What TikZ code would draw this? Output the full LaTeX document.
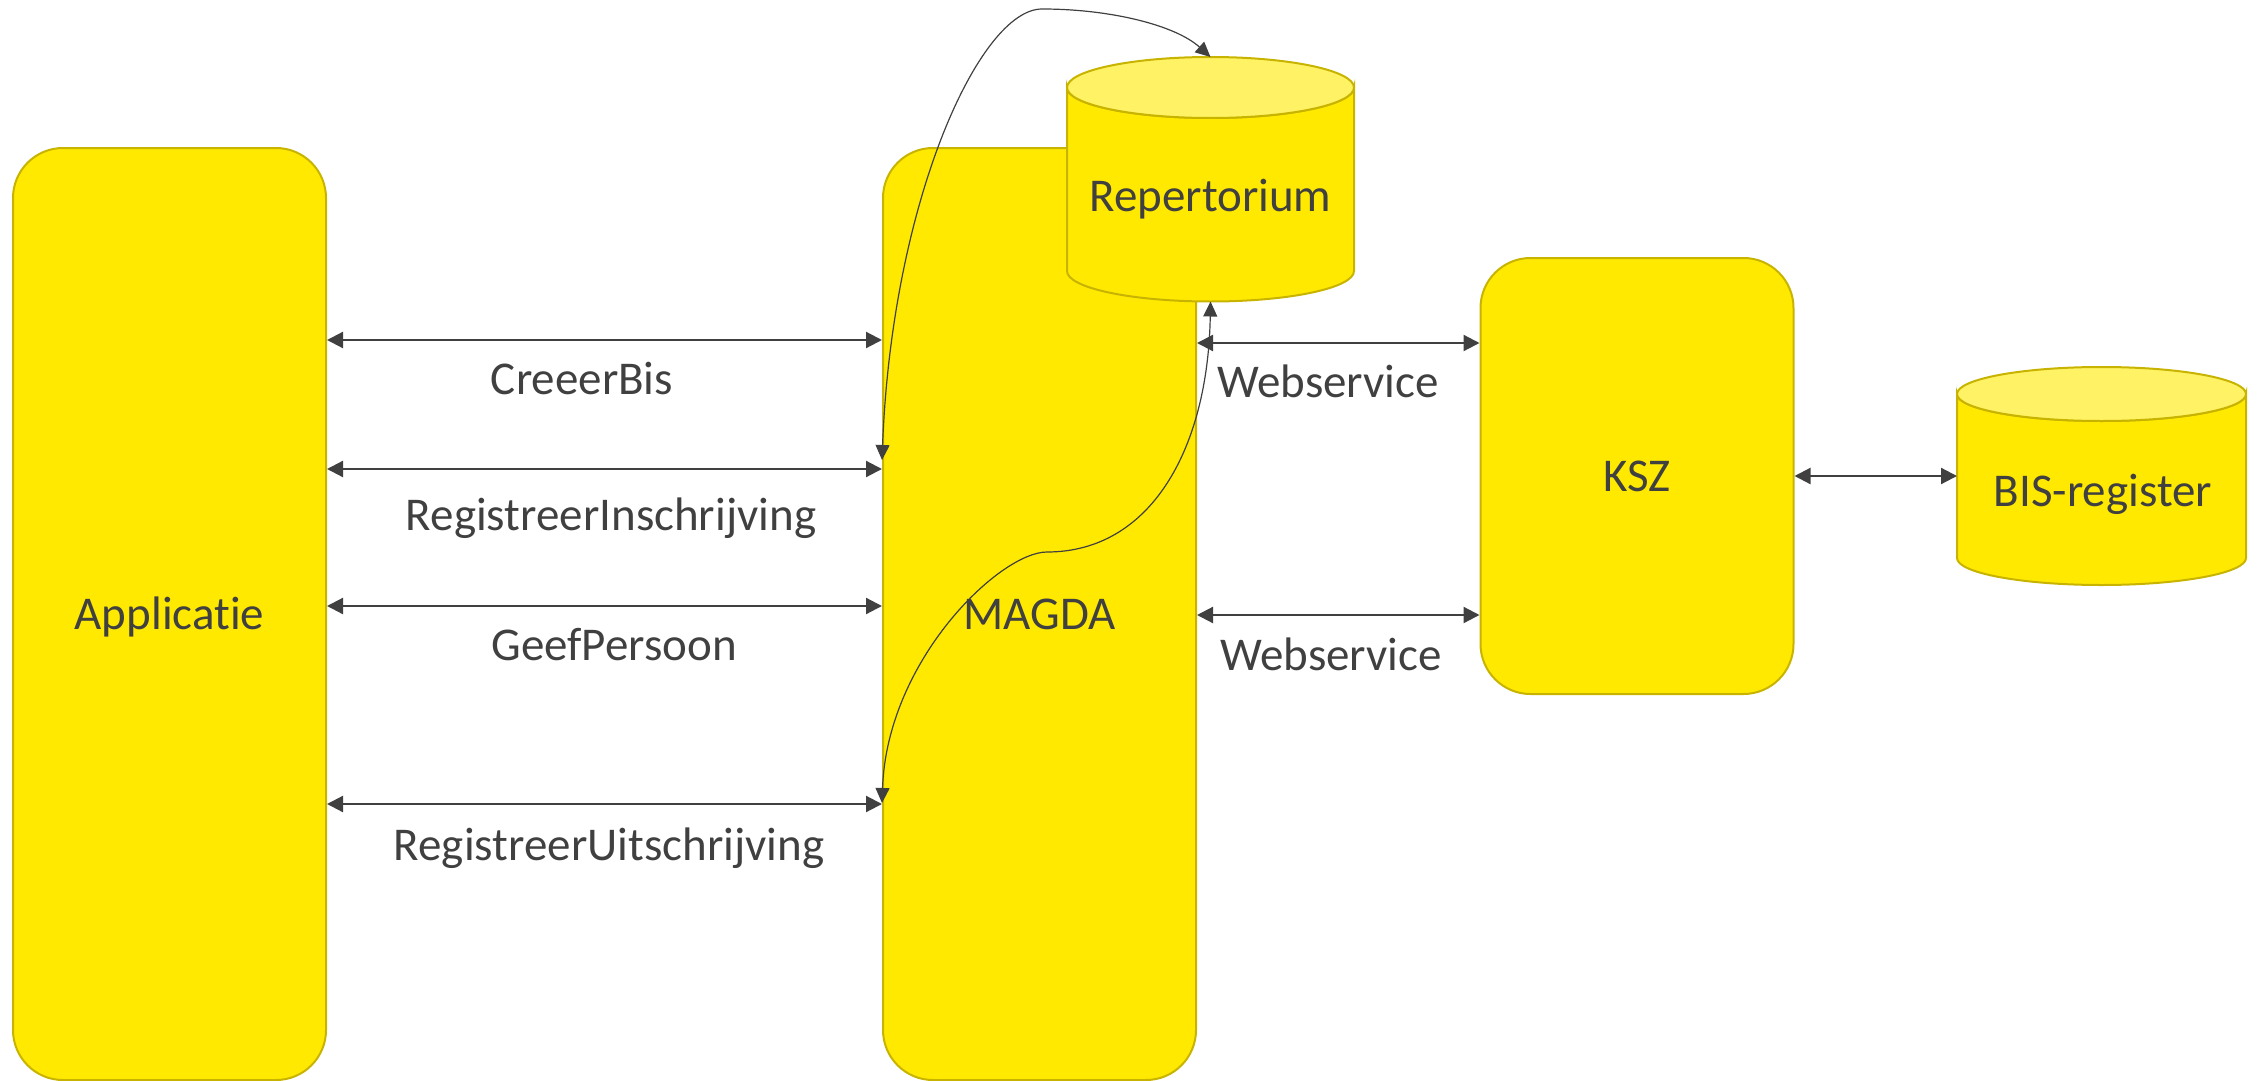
\documentclass[tikz,border=0pt]{standalone}
\usepackage{fontspec}
\setmainfont{Carlito}[Ligatures=NoCommon]
\usetikzlibrary{arrows.meta}
\definecolor{boxfill}{HTML}{FFE900}
\definecolor{boxline}{HTML}{C8B400}
\definecolor{topfill}{HTML}{FFF264}
\definecolor{ink}{HTML}{404040}
\begin{document}
\begin{tikzpicture}[x=1pt,y=-1pt,
  box/.style={draw=boxline, fill=boxfill, line width=2pt, rounded corners=50pt,
    minimum width=313pt, text=ink, font=\fontsize{47}{56}\selectfont,
    text height=30pt, text depth=0pt, inner sep=0pt},
  cyl/.style={draw=boxline, fill=boxfill, line width=2pt},
  cyltop/.style={draw=boxline, fill=topfill, line width=2pt},
  lbl/.style={text=ink, font=\fontsize{47}{56}\selectfont, anchor=base, inner sep=0pt},
  link/.style={draw=ink, line width=2.2pt,
    {Triangle[length=16pt,width=16pt]}-{Triangle[length=16pt,width=16pt]}},
  curvy/.style={draw=ink, line width=1.2pt,
    {Triangle[length=15pt,width=14pt]}-{Triangle[length=15pt,width=14pt]}}
]
\useasboundingbox (0,0) rectangle (2257,1081);

% boxes
\node[box, minimum height=932pt] (app) at (169.5,614) {Applicatie};
\node[box, minimum height=932pt] (magda) at (1039.5,614) {MAGDA};
\node[box, minimum height=436pt] (ksz) at (1637,476) {KSZ};

% Repertorium cylinder
\filldraw[cyl] (1067,87.5) -- (1067,271)
  arc[start angle=180, end angle=0, x radius=143.5, y radius=30.5]
  -- (1354,87.5)
  arc[start angle=0, end angle=180, x radius=143.5, y radius=30.5] -- cycle;
\filldraw[cyltop] (1210.5,87.5) ellipse[x radius=143.5, y radius=30.5];
\node[lbl] (rep) at (1210.5,211) {Repertorium};
\coordinate (reptop) at (1210.5,57);
\coordinate (repbot) at (1210.5,301.5);

% BIS-register cylinder
\filldraw[cyl] (1957,394) -- (1957,558)
  arc[start angle=180, end angle=0, x radius=144.5, y radius=27]
  -- (2246,394)
  arc[start angle=0, end angle=180, x radius=144.5, y radius=27] -- cycle;
\filldraw[cyltop] (2101.5,394) ellipse[x radius=144.5, y radius=27];
\node[lbl] (bis) at (2103,506) {BIS-register};
\coordinate (biswest) at (1957,476);

% straight connectors
\draw[link] (app.east |- 0,340) -- (magda.west |- 0,340);
\draw[link] (app.east |- 0,469) -- (magda.west |- 0,469);
\draw[link] (app.east |- 0,606) -- (magda.west |- 0,606);
\draw[link] (app.east |- 0,804) -- (magda.west |- 0,804);
\draw[link] (magda.east |- 0,343) -- (ksz.west |- 0,343);
\draw[link] (magda.east |- 0,615) -- (ksz.west |- 0,615);
\draw[link] (ksz.east |- biswest) -- (biswest);

% curved connectors
\draw[curvy] (magda.west |- 0,460) .. controls (892,200) and (980,9) .. (1042,9)
  .. controls (1110,9) and (1175,25) .. (reptop);
\draw[curvy] (repbot) .. controls (1208,450) and (1150,552) .. (1047,552)
  .. controls (1000,552) and (887,660) .. (magda.west |- 0,803);

% labels
\node[lbl] (l1) at (582,394) {CreeerBis};
\node[lbl] (l2) at (611,530) {RegistreerInschrijving};
\node[lbl] (l3) at (614,660) {GeefPersoon};
\node[lbl] (l4) at (609,860) {RegistreerUitschrijving};
\node[lbl] (l5) at (1328,397) {Webservice};
\node[lbl] (l6) at (1331,670) {Webservice};
\end{tikzpicture}
\end{document}
